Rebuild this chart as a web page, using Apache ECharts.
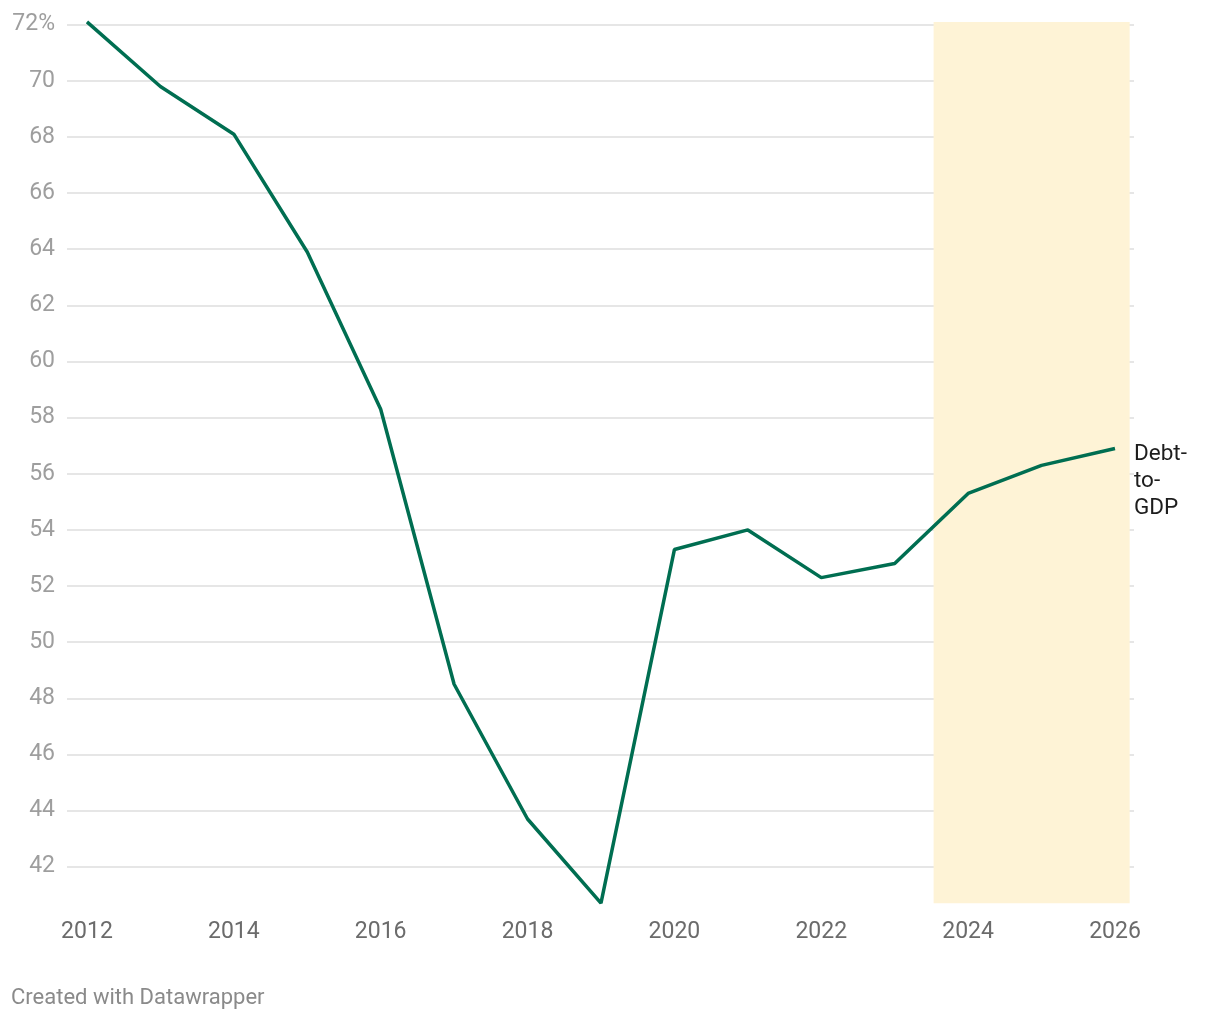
<!DOCTYPE html>
<html>
<head>
<meta charset="utf-8">
<script src="https://cdn.jsdelivr.net/npm/echarts@6/dist/echarts.min.js"></script>
<style>
html,body{margin:0;padding:0;background:#fff;}
#chart{width:1220px;height:1020px;}
</style>
</head>
<body>
<div id="chart"></div>
<script>
const years = [2012, 2013, 2014, 2015, 2016, 2017, 2018, 2019, 2020, 2021, 2022, 2023, 2024, 2025, 2026];
const debtToGdp = [72.1, 69.8, 68.1, 63.9, 58.3, 48.5, 43.7, 40.7, 53.3, 54.0, 52.3, 52.8, 55.3, 56.3, 56.9];
const xTickLabels = [2012, 2014, 2016, 2018, 2020, 2022, 2024, 2026];
const yTickValues = [42, 44, 46, 48, 50, 52, 54, 56, 58, 60, 62, 64, 66, 68, 70, 72];
const forecastRange = [2023.53, 2026.2];
const seriesName = 'Debt-to-GDP';

const chart = echarts.init(document.getElementById('chart'), null, {renderer: 'canvas'});
const FONT = 'Roboto, "Noto Sans", sans-serif';

chart.setOption({
  animation: false,
  backgroundColor: '#ffffff',
  grid: {left: 67, right: 86, top: 21.9, bottom: 116.8, containLabel: false},
  xAxis: {
    type: 'value',
    min: 2011.728,
    max: 2026.259,
    axisLine: {show: false},
    axisTick: {show: false},
    splitLine: {show: false},
    axisLabel: {
      customValues: xTickLabels,
      formatter: v => String(Math.round(v)),
      color: '#6b6b6b',
      fontSize: 23,
      fontFamily: FONT,
      margin: 18
    }
  },
  yAxis: {
    type: 'value',
    min: 40.7,
    max: 72.1,
    axisLine: {show: false},
    axisTick: {show: false, customValues: yTickValues},
    splitLine: {show: true, lineStyle: {color: '#e6e6e6', width: 2}},
    axisLabel: {
      customValues: yTickValues,
      formatter: v => (Math.round(v) === 72 ? '72%' : String(Math.round(v))),
      color: '#9e9e9e',
      fontSize: 23,
      fontFamily: FONT,
      margin: 12,
      align: 'right'
    }
  },
  series: [{
    type: 'line',
    name: seriesName,
    data: years.map((y, i) => [y, debtToGdp[i]]),
    symbol: 'none',
    clip: false,
    lineStyle: {color: '#006e51', width: 3.5},
    itemStyle: {color: '#006e51'},
    z: 5,
    markArea: {
      silent: true,
      itemStyle: {color: '#fef3d6'},
      data: [[{xAxis: forecastRange[0], yAxis: 40.7}, {xAxis: forecastRange[1], yAxis: 72.1}]],
      z: 0
    },
    endLabel: {
      show: true,
      formatter: 'Debt-\nto-\nGDP',
      color: '#1d1d1d',
      fontSize: 22.5,
      lineHeight: 27,
      fontFamily: FONT,
      align: 'left',
      verticalAlign: 'top',
      distance: 19,
      offset: [0, -8]
    }
  }],
  graphic: [{
    type: 'text',
    left: 11,
    top: 987,
    style: {text: 'Created with Datawrapper', fill: '#8a8a8a', font: '22px ' + FONT}
  }]
});
</script>
</body>
</html>
